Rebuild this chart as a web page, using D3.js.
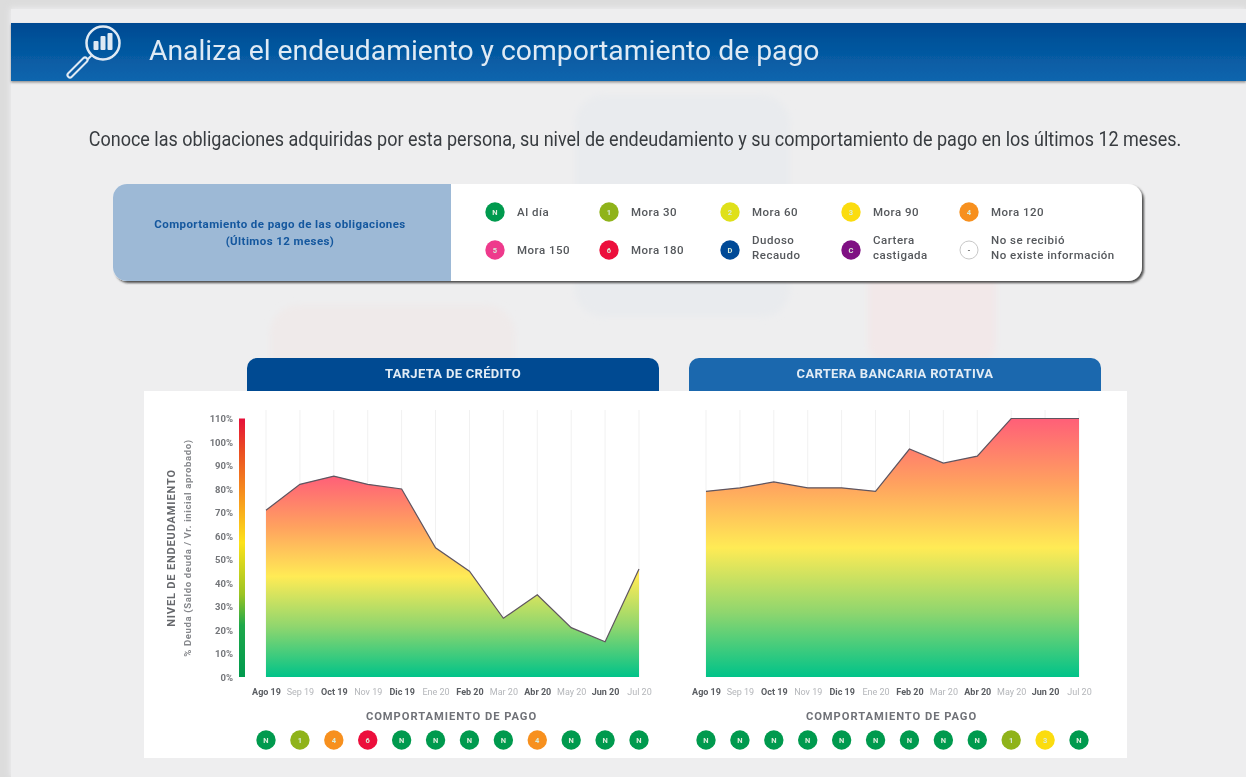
<!DOCTYPE html>
<html>
<head>
<meta charset="utf-8">
<script src="https://cdn.jsdelivr.net/npm/d3@7/dist/d3.min.js"></script>
<style>
    html, body { margin: 0; padding: 0; background: #dcdcdc; overflow: hidden; }
    svg { display: block; font-family: Roboto, sans-serif; filter: blur(0.6px); }
</style>
</head>
<body>
<svg id="chart" width="1246" height="777"></svg>
<script>
// Data
const months = ["Ago 19", "Sep 19", "Oct 19", "Nov 19", "Dic 19", "Ene 20", "Feb 20", "Mar 20", "Abr 20", "May 20", "Jun 20", "Jul 20"];
const yTicks = [0, 10, 20, 30, 40, 50, 60, 70, 80, 90, 100, 110];
const tarjetaValues = [71, 82, 85.5, 82, 80, 55, 45, 25, 35, 21, 15, 46];
const carteraValues = [79, 80.5, 83, 80.5, 80.5, 79, 97, 91, 94, 110, 110, 110];
const tarjetaCodes = ["N", "1", "4", "6", "N", "N", "N", "N", "4", "N", "N", "N"];
const carteraCodes = ["N", "N", "N", "N", "N", "N", "N", "N", "N", "1", "3", "N"];
const legendCodes = ["N", "1", "2", "3", "4", "5", "6", "D", "C", "-"];
const legendLabels = [["Al día"], ["Mora 30"], ["Mora 60"], ["Mora 90"], ["Mora 120"],
    ["Mora 150"], ["Mora 180"], ["Dudoso", "Recaudo"], ["Cartera", "castigada"], ["No se recibió", "No existe información"]];
const codeColors = ["#009a4e", "#8fb31a", "#dfe01a", "#fbdc0f", "#f7901e", "#ee3a8c", "#ec0f3c", "#004a97", "#7f1083", "#ffffff"];

const dimensions = {
    width: 1246,
    height: 777,
    plotTop: 418.5,
    plotBottom: 677,
    gridTop: 410,
};

const colorScale = d3.scaleOrdinal().domain(legendCodes).range(codeColors);
const yScale = d3.scaleLinear().domain([0, 110]).range([dimensions.plotBottom, dimensions.plotTop]);

const svg = d3.select("#chart");
const defs = svg.append("defs");

function addGradient(id, stops, attrs) {
    const g = defs.append("linearGradient").attr("id", id);
    Object.entries(attrs).forEach(([k, v]) => g.attr(k, v));
    stops.forEach(s => g.append("stop").attr("offset", s[0]).attr("stop-color", s[1]));
}
addGradient("areaFill", [["0%", "#ff5f78"], ["25%", "#ffa15f"], ["50%", "#ffeb55"], ["75%", "#8fd66e"], ["100%", "#00c389"]],
    { x1: 0, y1: 0, x2: 0, y2: 1 });
addGradient("scaleFill", [["0%", "#e6103a"], ["12%", "#ea4b22"], ["30%", "#f7941d"], ["48%", "#fde21a"], ["68%", "#9cc423"], ["80%", "#1ea84a"], ["100%", "#009a4e"]],
    { x1: 0, y1: 0, x2: 0, y2: 1 });
addGradient("barFill", [["0%", "#004a92"], ["100%", "#0b66ae"]], { x1: 0, y1: 0, x2: 0, y2: 1 });

const shadow = defs.append("filter").attr("id", "cardShadow").attr("x", "-5%").attr("y", "-15%").attr("width", "110%").attr("height", "130%");
shadow.append("feDropShadow").attr("dx", 2).attr("dy", 2).attr("stdDeviation", 1.2).attr("flood-color", "#333").attr("flood-opacity", 0.85);
const barShadow = defs.append("filter").attr("id", "barShadow").attr("x", "-2%").attr("y", "-15%").attr("width", "104%").attr("height", "130%");
barShadow.append("feDropShadow").attr("dx", 0).attr("dy", 1.5).attr("stdDeviation", 1).attr("flood-color", "#555").attr("flood-opacity", 0.6);
const soft = defs.append("filter").attr("id", "soft").attr("x", "-5%").attr("y", "-5%").attr("width", "110%").attr("height", "110%");
soft.append("feGaussianBlur").attr("stdDeviation", 3);

// Page background
svg.append("rect").attr("x", 10).attr("y", 8).attr("width", 1236).attr("height", 769).attr("fill", "#eeeef0").attr("filter", "url(#soft)");
svg.append("rect").attr("x", 11).attr("y", 9).attr("width", 1235).attr("height", 768).attr("fill", "#eeeeef");

// Faint watermark shapes behind the content
const marks = svg.append("g").attr("filter", "url(#soft)");
marks.append("rect").attr("x", 575).attr("y", 95).attr("width", 215).attr("height", 222).attr("rx", 28).attr("fill", "#e9ebee");
marks.append("rect").attr("x", 270).attr("y", 305).attr("width", 245).attr("height", 90).attr("rx", 28).attr("fill", "#efeaea");
marks.append("rect").attr("x", 868).attr("y", 270).attr("width", 128).attr("height", 90).attr("rx", 14).attr("fill", "#f2e8e9");

// Header bar
svg.append("rect").attr("x", 11).attr("y", 23).attr("width", 1235).attr("height", 58).attr("fill", "url(#barFill)").attr("filter", "url(#barShadow)");
svg.append("text").attr("x", 149).attr("y", 60).attr("fill", "#dfeaf4").style("font-size", "28.3px").text("Analiza el endeudamiento y comportamiento de pago");

// Magnifier icon
const icon = svg.append("g").attr("fill", "none").attr("stroke", "#dfeaf4").attr("stroke-linecap", "round");
icon.append("circle").attr("cx", 103).attr("cy", 43).attr("r", 16.5).attr("stroke-width", 2.5);
icon.append("line").attr("x1", 91).attr("y1", 56).attr("x2", 85).attr("y2", 62).attr("stroke-width", 2);
icon.append("line").attr("x1", 85).attr("y1", 60).attr("x2", 70).attr("y2", 75).attr("stroke-width", 7);
icon.append("line").attr("x1", 85).attr("y1", 60).attr("x2", 70).attr("y2", 75).attr("stroke-width", 3).attr("stroke", "#0a5ca6");
[[96, 41, 9], [103, 36, 14], [110, 33, 17]].forEach(b => {
    svg.append("rect").attr("x", b[0] - 2.5).attr("y", b[1]).attr("width", 5).attr("height", b[2]).attr("rx", 1).attr("fill", "#dfeaf4");
});

// Intro sentence, squeezed a little to the reference's narrow look
svg.append("text").attr("transform", "translate(635,146) scale(0.9,1)").attr("text-anchor", "middle").attr("fill", "#383c40")
    .style("font-size", "20px")
    .text("Conoce las obligaciones adquiridas por esta persona, su nivel de endeudamiento y su comportamiento de pago en los últimos 12 meses.");

// Legend card
const card = svg.append("g");
card.append("rect").attr("x", 113).attr("y", 184).attr("width", 1029).attr("height", 97).attr("rx", 14).attr("fill", "#ffffff").attr("filter", "url(#cardShadow)");
card.append("path").attr("d", "M451,184H127a14,14 0 0 0 -14,14V267a14,14 0 0 0 14,14H451Z").attr("fill", "#9db9d6");
card.append("text").attr("x", 280).attr("y", 228).attr("text-anchor", "middle").attr("fill", "#14579e").attr("font-weight", 700).style("font-size", "11.5px").style("letter-spacing", "0.42px").text("Comportamiento de pago de las obligaciones");
card.append("text").attr("x", 280).attr("y", 245).attr("text-anchor", "middle").attr("fill", "#14579e").attr("font-weight", 700).style("font-size", "11.5px").style("letter-spacing", "0.42px").text("(Últimos 12 meses)");

function drawBadge(parent, x, y, code) {
    parent.append("circle").attr("cx", x).attr("cy", y).attr("r", code === "-" ? 9 : 9.7)
        .attr("fill", colorScale(code))
        .attr("stroke", code === "-" ? "#c8c8c8" : "none");
    parent.append("text").attr("x", x).attr("y", y + 2.8).attr("text-anchor", "middle")
        .attr("fill", code === "-" ? "#666" : "#d9ecd9").attr("font-weight", 700).style("font-size", "7.5px").text(code);
}

const legendX = [495, 609, 730, 851, 969];
const legendY = [212, 250];
legendCodes.forEach((code, i) => {
    const x = legendX[i % 5];
    const y = legendY[Math.floor(i / 5)];
    drawBadge(card, x, y, code);
    const lines = legendLabels[i];
    lines.forEach((line, j) => {
        const shift = lines.length > 1 ? -2.5 : 0;
        card.append("text").attr("x", x + 22).attr("y", y + 4 + shift + (j - (lines.length - 1) / 2) * 14.5)
            .attr("fill", "#55585c").attr("font-weight", 500).style("font-size", "11.5px").style("letter-spacing", "0.5px").text(line);
    });
});

// White chart panel
svg.append("rect").attr("x", 144).attr("y", 391).attr("width", 983).attr("height", 367).attr("fill", "#ffffff");

function renderPanel(title, tabX, tabColor, x0, x1, values, codes) {
    const xScale = d3.scalePoint().domain(months).range([x0, x1]);
    const panel = svg.append("g");

    panel.append("path")
        .attr("d", `M${tabX},391V368a10,10 0 0 1 10,-10H${tabX + 402}a10,10 0 0 1 10,10V391Z`)
        .attr("fill", tabColor);
    panel.append("text").attr("x", tabX + 206).attr("y", 378).attr("text-anchor", "middle")
        .attr("fill", "#e2ecf5").attr("font-weight", 700).style("font-size", "13px").style("letter-spacing", "0.3px").text(title);

    // Vertical grid
    panel.append("g").selectAll("line").data(months).enter().append("line")
        .attr("x1", d => xScale(d)).attr("x2", d => xScale(d))
        .attr("y1", dimensions.gridTop).attr("y2", dimensions.plotBottom)
        .attr("stroke", "#f1f1f1");

    const area = d3.area().x((d, i) => xScale(months[i])).y0(yScale(0)).y1(d => yScale(d));
    const line = d3.line().x((d, i) => xScale(months[i])).y(d => yScale(d));
    panel.append("path").datum(values).attr("d", area).attr("fill", "url(#areaFill)");
    panel.append("path").datum(values).attr("d", line).attr("fill", "none").attr("stroke", "#5f5560").attr("stroke-width", 1.2);

    // X axis, every other label lighter
    const xAxis = panel.append("g").attr("transform", `translate(0,${dimensions.plotBottom + 7})`)
        .call(d3.axisBottom(xScale).tickSize(0).tickPadding(5));
    xAxis.select(".domain").remove();
    xAxis.selectAll("text")
        .style("font-family", "Roboto, sans-serif")
        .style("font-size", "9px")
        .style("font-weight", (d, i) => i % 2 === 0 ? 700 : 400)
        .attr("fill", (d, i) => i % 2 === 0 ? "#5a5d62" : "#b4b6ba");

    panel.append("text").attr("x", (x0 + x1) / 2 - 1).attr("y", 720).attr("text-anchor", "middle")
        .attr("fill", "#707278").attr("font-weight", 700).style("font-size", "11.2px").style("letter-spacing", "0.95px")
        .text("COMPORTAMIENTO DE PAGO");

    codes.forEach((code, i) => drawBadge(panel, xScale(months[i]), 740, code));
}

renderPanel("TARJETA DE CRÉDITO", 247, "#004a92", 266, 639, tarjetaValues, tarjetaCodes);
renderPanel("CARTERA BANCARIA ROTATIVA", 689, "#1b68ae", 706, 1079, carteraValues, carteraCodes);

// Shared Y axis with its colour scale
svg.append("rect").attr("x", 239).attr("y", dimensions.plotTop).attr("width", 6)
    .attr("height", dimensions.plotBottom - dimensions.plotTop).attr("fill", "url(#scaleFill)");
const yAxis = svg.append("g").attr("transform", "translate(233,0)")
    .call(d3.axisLeft(yScale).tickValues(yTicks).tickFormat(d => d + "%").tickSize(0).tickPadding(0));
yAxis.select(".domain").remove();
yAxis.selectAll("text")
    .style("font-family", "Roboto, sans-serif")
    .style("font-size", "9.5px")
    .style("font-weight", 700)
    .attr("fill", "#74767a");

svg.append("text").attr("transform", "translate(175,548) rotate(-90)").attr("text-anchor", "middle")
    .attr("fill", "#66686c").attr("font-weight", 700).style("font-size", "11px").style("letter-spacing", "0.85px").text("NIVEL DE ENDEUDAMIENTO");
svg.append("text").attr("transform", "translate(191,548) rotate(-90)").attr("text-anchor", "middle")
    .attr("fill", "#85878b").attr("font-weight", 700).style("font-size", "9.6px").style("letter-spacing", "0.62px").text("% Deuda (Saldo deuda / Vr. inicial aprobado)");
</script>
</body>
</html>
